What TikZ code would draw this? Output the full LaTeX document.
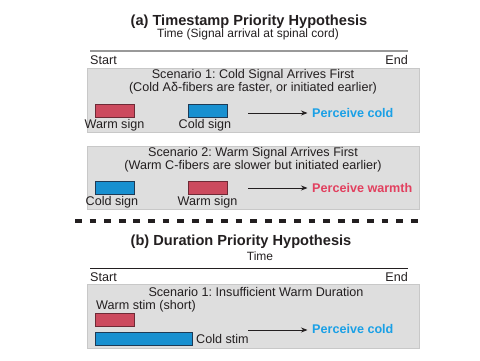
\documentclass[tikz,border=0pt]{standalone}
\usepackage{fontspec}
\setmainfont{Liberation Sans}
\usetikzlibrary{arrows.meta}
\frenchspacing
\definecolor{warmfill}{HTML}{CC4A5E}
\definecolor{warmdraw}{HTML}{6E2A36}
\definecolor{coldfill}{HTML}{1890D0}
\definecolor{colddraw}{HTML}{1E3A55}
\definecolor{coldtext}{HTML}{1AA0E6}
\definecolor{warmtext}{HTML}{E2405F}
\definecolor{panelfill}{HTML}{DEDEDE}
\definecolor{paneldraw}{HTML}{C8C8C8}
\definecolor{txt}{HTML}{231F20}
\begin{document}
\frenchspacing
\begin{tikzpicture}[x=1pt,y=-1pt,
  every node/.style={inner sep=0pt, text=txt, font=\fontsize{12.6}{13.3}\selectfont},
  panel/.style={fill=panelfill, draw=paneldraw, line width=0.8pt},
  warmbar/.style={fill=warmfill, draw=warmdraw, line width=0.8pt, minimum width=39pt, minimum height=13pt},
  coldbar/.style={fill=coldfill, draw=colddraw, line width=0.8pt, minimum width=39pt, minimum height=13pt},
  maintitle/.style={font=\bfseries\fontsize{14.6}{16}\selectfont},
  subtitle/.style={font=\fontsize{12}{13}\selectfont},
  scen/.style={align=center},
  result/.style={font=\bfseries\fontsize{12.6}{14}\selectfont, anchor=west},
  arr/.style={-{Stealth[length=6.5pt,width=5pt]}, line width=0.8pt, draw=txt, shorten >=4.5pt},
]
\useasboundingbox (0,0) rectangle (480,360);

% ---------- (a) ----------
\node[maintitle] (ta) at (249,21.5) {(a) Timestamp Priority Hypothesis};
\node[subtitle] (sa) at (248,34) {Time (Signal arrival at spinal cord)};
\coordinate (la1) at (90,51);
\coordinate (la2) at (408,51);
\draw[line width=1.6pt, draw=black!40] (la1) -- (la2);
\node[anchor=west] (starta) at (90,60) {Start};
\node[anchor=east] (enda) at (408,60) {End};

% Scenario 1
\path[panel] (87,68) rectangle (419,132);
\node[scen] (s1) at (253,81.5) {Scenario 1: Cold Signal Arrives First\\(Cold Aδ-fibers are faster, or initiated earlier)};
\node[warmbar] (w1) at (114.5,110.5) {};
\node[coldbar] (c1) at (207.5,110.5) {};
\node[anchor=north] (w1l) at (114.5,119.5) {Warm sign};
\node[anchor=north] (c1l) at (205,119.5) {Cold sign};
\coordinate (a1) at (248,113);
\node[result, text=coldtext] (r1) at (312,112.5) {Perceive cold};
\draw[arr] (a1) -- (a1 -| r1.west);

% Scenario 2
\path[panel] (87,146) rectangle (419,209);
\node[scen] (s2) at (253,159.5) {Scenario 2: Warm Signal Arrives First\\(Warm C-fibers are slower but initiated earlier)};
\node[coldbar] (c2) at (114.5,187.5) {};
\node[warmbar] (w2) at (207.5,187.5) {};
\node[anchor=north] (c2l) at (112,196) {Cold sign};
\node[anchor=north] (w2l) at (207.5,196) {Warm sign};
\coordinate (a2) at (248,188);
\node[result, text=warmtext] (r2) at (312,187.7) {Perceive warmth};
\draw[arr] (a2) -- (a2 -| r2.west);

% separator
\coordinate (d1) at (75,221);
\coordinate (d2) at (424,221);
\draw[line width=3.6pt, draw=txt, dash pattern=on 6.8pt off 7.8pt] (d1) -- (d2);

% ---------- (b) ----------
\node[maintitle] (tb) at (241,241.5) {(b) Duration Priority Hypothesis};
\node[subtitle] (sb) at (260,256.5) {Time};
\coordinate (lb1) at (90,268);
\coordinate (lb2) at (408,268);
\draw[line width=0.9pt, draw=txt] (lb1) -- (lb2);
\node[anchor=west] (startb) at (90,277) {Start};
\node[anchor=east] (endb) at (408,277) {End};

% Scenario (b) 1
\path[panel] (87,284) rectangle (419,348);
\node (s3) at (256,292) {Scenario 1: Insufficient Warm Duration};
\node[anchor=west] (w3l) at (96,306) {Warm stim (short)};
\node[warmbar] (w3) at (114.5,320) {};
\node[coldbar, minimum width=97pt] (c3) at (143.5,339) {};
\node[anchor=west] (c3l) at (196,338.5) {Cold stim};
\coordinate (a3) at (248,330);
\node[result, text=coldtext] (r3) at (312,328.5) {Perceive cold};
\draw[arr] (a3) -- (a3 -| r3.west);

\end{tikzpicture}
\end{document}
